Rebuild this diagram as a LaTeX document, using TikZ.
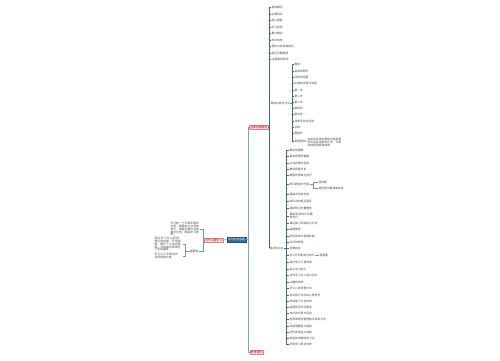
\documentclass[tikz,border=0pt]{standalone}
\usepackage{fontspec}
\setmainfont{Noto Sans CJK SC}
\XeTeXlinebreaklocale "zh"
\XeTeXlinebreakskip = 0pt plus 0.5pt
\definecolor{rootblue}{HTML}{2F6E9E}
\definecolor{trunkc}{HTML}{6FA8D0}
\definecolor{branchc}{HTML}{3F6885}
\definecolor{pinkfill}{HTML}{FCE6E6}
\definecolor{pinkline}{HTML}{E27B7B}
\definecolor{leaftext}{HTML}{444444}
\newcommand{\tinyfont}{\fontsize{2.8}{2.95}\selectfont}
\tikzset{
	rootbox/.style = {draw = rootblue!70!black, fill = rootblue, text = white, font = \tinyfont, inner xsep = 1.4pt, inner ysep = 1pt, line width = 0.3pt},
	pinkbox/.style = {draw = pinkline, fill = pinkfill, text = red!65!black, font = \tinyfont, inner xsep = 0.8pt, inner ysep = 0.6pt, line width = 0.3pt},
	leaf/.style = {font = \tinyfont, text = leaftext, inner sep = 0.3pt, anchor = west},
	rleaf/.style = {font = \tinyfont, text = leaftext, inner sep = 0.3pt, anchor = east},
	trunk/.style = {draw = trunkc, line width = 0.6pt},
	branch/.style = {draw = branchc, line width = 0.5pt},
	twig/.style = {draw = branchc!70, line width = 0.3pt}
}
\begin{document}
\begin{tikzpicture}[x = 1pt, y = -1pt]
				\useasboundingbox (0,0) rectangle (500,360);
				
				\node[rootbox] (root) at (236.5,239.5) {学习方法总结};
				\node[pinkbox, anchor = east] (b1) at (268,127) {主要内容概述};
				\node[pinkbox, anchor = west] (b2) at (250,352) {参考资料};
				\node[pinkbox, anchor = east] (a) at (223,240) {为什么要学习};
				
				\draw[trunk] (root.east) -- ++(2,0) |- (b1.west);
				\draw[trunk] (root.east) -- ++(2,0) |- (b2.west);
				\draw[trunk] (root.west) -- (a.east);
				
				% upper branch
				\node[leaf] (c1) at (271,7) {基本概念};
				\node[leaf] (c2) at (271,14) {主要特点};
				\node[leaf] (c3) at (271,20) {核心要素};
				\node[leaf] (c4) at (271,27) {学习目标};
				\node[leaf] (c5) at (271,33) {重点难点};
				\node[leaf] (c6) at (271,40) {知识结构};
				\node[leaf] (c7) at (271,46) {理论与实践相结合};
				\node[leaf] (c8) at (271,53) {常见问题解答};
				\node[leaf] (c9) at (271,59) {注意事项说明};
				\node[leaf] (s1) at (270,103) {具体内容与方法};
				\node[leaf] (s2) at (269,248) {相关知识点};
				
				\draw[branch] (b1.east) -- ++(1,0) |- (c1.west);
				\draw[branch] (b1.east) -- ++(1,0) |- (c2.west);
				\draw[branch] (b1.east) -- ++(1,0) |- (c3.west);
				\draw[branch] (b1.east) -- ++(1,0) |- (c4.west);
				\draw[branch] (b1.east) -- ++(1,0) |- (c5.west);
				\draw[branch] (b1.east) -- ++(1,0) |- (c6.west);
				\draw[branch] (b1.east) -- ++(1,0) |- (c7.west);
				\draw[branch] (b1.east) -- ++(1,0) |- (c8.west);
				\draw[branch] (b1.east) -- ++(1,0) |- (c9.west);
				\draw[branch] (b1.east) -- ++(1,0) |- (s1.west);
				\draw[branch] (b1.east) -- ++(1,0) |- (s2.west);
				
				% first group
				\node[leaf] (d1) at (294,64) {概述};
				\node[leaf] (d2) at (294,71) {基本的原则};
				\node[leaf] (d3) at (294,77) {适用的范围};
				\node[leaf] (d4) at (294,83) {实施的步骤与流程};
				\node[leaf] (d5) at (294,90) {第一步};
				\node[leaf] (d6) at (294,96) {第二步};
				\node[leaf] (d7) at (294,102) {第三步};
				\node[leaf] (d8) at (294,108) {第四步};
				\node[leaf] (d9) at (294,114) {第五步};
				\node[leaf] (d10) at (294,121) {效果评估与反馈};
				\node[leaf] (d11) at (294,127) {总结};
				\node[leaf] (d12) at (294,133) {再提升};
				\node[leaf] (d13) at (294,141) {拓展延伸};
				\node[leaf, text width = 34pt, align = left] (e1) at (307,142) {在实际应用中要结合具体情况灵活运用各种方法，不断总结经验提高效率。};
				
				\draw[branch] (s1.east) -- ++(1.5,0) |- (d1.west);
				\draw[branch] (s1.east) -- ++(1.5,0) |- (d2.west);
				\draw[branch] (s1.east) -- ++(1.5,0) |- (d3.west);
				\draw[branch] (s1.east) -- ++(1.5,0) |- (d4.west);
				\draw[branch] (s1.east) -- ++(1.5,0) |- (d5.west);
				\draw[branch] (s1.east) -- ++(1.5,0) |- (d6.west);
				\draw[branch] (s1.east) -- ++(1.5,0) |- (d7.west);
				\draw[branch] (s1.east) -- ++(1.5,0) |- (d8.west);
				\draw[branch] (s1.east) -- ++(1.5,0) |- (d9.west);
				\draw[branch] (s1.east) -- ++(1.5,0) |- (d10.west);
				\draw[branch] (s1.east) -- ++(1.5,0) |- (d11.west);
				\draw[branch] (s1.east) -- ++(1.5,0) |- (d12.west);
				\draw[branch] (s1.east) -- ++(1.5,0) |- (d13.west);
				\draw[twig] (d13.east) -- (e1.west);
				
				% second group
				\node[leaf] (f1) at (289,150) {概念的理解};
				\node[leaf] (f2) at (289,156) {基本原理的掌握};
				\node[leaf] (f3) at (289,163) {公式定理的运用};
				\node[leaf] (f4) at (289,169) {典型例题分析};
				\node[leaf] (f5) at (289,175) {解题的思路与技巧};
				\node[leaf] (f6) at (289,184) {常见题型的分类};
				\node[leaf] (g1) at (318,182) {选择题};
				\node[leaf] (g2) at (318,188) {填空题与解答题综合};
				\node[leaf] (f7) at (289,194) {易错点归纳总结};
				\node[leaf] (f8) at (289,201) {知识点的相互联系};
				\node[leaf] (f9) at (289,208) {课前预习的重要性};
				\node[leaf, text width = 25pt, align = left] (f10) at (289,216) {课堂听讲的方法要求技巧};
				\node[leaf] (f11) at (289,223) {课后复习巩固练习方法};
				\node[leaf] (f12) at (289,229) {错题整理};
				\node[leaf] (f13) at (289,236) {阶段测试与查漏补缺};
				\node[leaf] (f14) at (289,242) {时间的管理};
				\node[leaf] (f15) at (289,248) {劳逸结合};
				\node[leaf] (f16) at (289,255) {学习计划制定与执行};
				\node[leaf] (h1) at (319,255) {很重要};
				\node[leaf] (f17) at (289,262) {良好学习习惯养成};
				\node[leaf] (f18) at (289,269) {自主学习能力};
				\node[leaf] (f19) at (289,275) {合作学习与小组讨论法};
				\node[leaf] (f20) at (289,282) {兴趣的培养};
				\node[leaf] (f21) at (289,288) {学习心态调整方法};
				\node[leaf] (f22) at (289,295) {考试技巧与应试心理调节};
				\node[leaf] (f23) at (289,301) {考前复习计划安排};
				\node[leaf] (f24) at (289,307) {答题规范书写要求};
				\node[leaf] (f25) at (289,313) {知识的迁移与运用};
				\node[leaf] (f26) at (289,319) {用思维导图整理知识体系方法};
				\node[leaf] (f27) at (289,326) {阅读理解能力提高};
				\node[leaf] (f28) at (289,332) {写作表达能力训练};
				\node[leaf] (f29) at (289,338) {信息技术辅助学习法};
				\node[leaf] (f30) at (289,344) {终身学习意识培养};
				
				\draw[branch] (s2.east) -- ++(2,0) |- (f1.west);
				\draw[branch] (s2.east) -- ++(2,0) |- (f2.west);
				\draw[branch] (s2.east) -- ++(2,0) |- (f3.west);
				\draw[branch] (s2.east) -- ++(2,0) |- (f4.west);
				\draw[branch] (s2.east) -- ++(2,0) |- (f5.west);
				\draw[branch] (s2.east) -- ++(2,0) |- (f6.west);
				\draw[branch] (s2.east) -- ++(2,0) |- (f7.west);
				\draw[branch] (s2.east) -- ++(2,0) |- (f8.west);
				\draw[branch] (s2.east) -- ++(2,0) |- (f9.west);
				\draw[branch] (s2.east) -- ++(2,0) |- (f10.west);
				\draw[branch] (s2.east) -- ++(2,0) |- (f11.west);
				\draw[branch] (s2.east) -- ++(2,0) |- (f12.west);
				\draw[branch] (s2.east) -- ++(2,0) |- (f13.west);
				\draw[branch] (s2.east) -- ++(2,0) |- (f14.west);
				\draw[branch] (s2.east) -- ++(2,0) |- (f15.west);
				\draw[branch] (s2.east) -- ++(2,0) |- (f16.west);
				\draw[branch] (s2.east) -- ++(2,0) |- (f17.west);
				\draw[branch] (s2.east) -- ++(2,0) |- (f18.west);
				\draw[branch] (s2.east) -- ++(2,0) |- (f19.west);
				\draw[branch] (s2.east) -- ++(2,0) |- (f20.west);
				\draw[branch] (s2.east) -- ++(2,0) |- (f21.west);
				\draw[branch] (s2.east) -- ++(2,0) |- (f22.west);
				\draw[branch] (s2.east) -- ++(2,0) |- (f23.west);
				\draw[branch] (s2.east) -- ++(2,0) |- (f24.west);
				\draw[branch] (s2.east) -- ++(2,0) |- (f25.west);
				\draw[branch] (s2.east) -- ++(2,0) |- (f26.west);
				\draw[branch] (s2.east) -- ++(2,0) |- (f27.west);
				\draw[branch] (s2.east) -- ++(2,0) |- (f28.west);
				\draw[branch] (s2.east) -- ++(2,0) |- (f29.west);
				\draw[branch] (s2.east) -- ++(2,0) |- (f30.west);
				\draw[twig] (f6.east) -- ++(4,0) |- (g1.west);
				\draw[twig] (f6.east) -- ++(4,0) |- (g2.west);
				\draw[twig] (f16.east) -- (h1.west);
				
				% left branch
				\node[rleaf, text width = 29pt, align = left] (l1) at (200,229) {学习是一个不断积累的过程，需要持之以恒地努力，掌握正确方法能事半功倍，提高学习效率。};
				\node[rleaf] (l2) at (199,251) {重要性};
				\node[rleaf, text width = 28pt, align = left] (l3) at (183,244) {通过学习可以获得知识和技能，开阔视野，提升个人综合素质，为将来的发展打下坚实基础。};
				\node[rleaf, text width = 28pt, align = left] (l4) at (183,256) {学习让人不断进步，实现自我价值。};
				
				\draw[twig] (a.west) -- ++(-1,0) |- (l1.east);
				\draw[twig] (a.west) -- ++(-1,0) |- (l2.east);
				\draw[twig] (l2.west) -- ++(-4,0) |- (l3.east);
				\draw[twig] (l2.west) -- ++(-4,0) |- (l4.east);
			\end{tikzpicture}
\end{document}
